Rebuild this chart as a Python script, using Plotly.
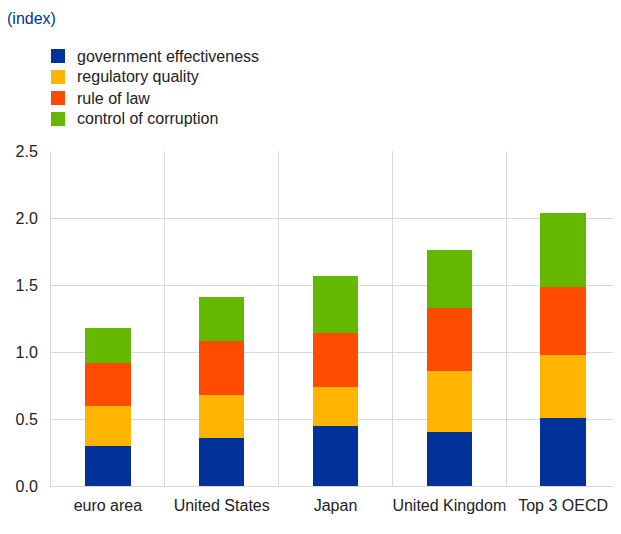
import plotly.graph_objects as go

categories = ["euro area", "United States", "Japan", "United Kingdom", "Top 3 OECD"]
government_effectiveness = [0.30, 0.36, 0.45, 0.40, 0.505]
regulatory_quality = [0.30, 0.32, 0.29, 0.46, 0.47]
rule_of_law = [0.32, 0.40, 0.40, 0.47, 0.51]
control_of_corruption = [0.26, 0.33, 0.43, 0.43, 0.555]

series_names = ["government effectiveness", "regulatory quality", "rule of law", "control of corruption"]
series_values = [government_effectiveness, regulatory_quality, rule_of_law, control_of_corruption]
colors = ["#003299", "#FFB400", "#FF4B00", "#65B800"]

FONT = "Liberation Sans, Arial, sans-serif"

# page body has an 8px margin, so the figure is sized to fill the rest of the window
W, H = 613, 526
L, R, T, B = 43, 1, 143, 48
pw = W - L - R
ph = H - T - B


def px(xpix):
    return (xpix - L) / pw


def py(ypix):
    return 1 - (ypix - T) / ph


fig = go.Figure()
for name, vals, col in zip(series_names, series_values, colors):
    fig.add_trace(go.Bar(x=categories, y=vals, name=name,
                         marker=dict(color=col, line=dict(width=0)), showlegend=False))

shapes = []
annotations = [dict(
    text="(index)", xref="paper", yref="paper",
    x=px(-2), y=py(11),
    xanchor="left", yanchor="middle", showarrow=False, borderpad=0,
    font=dict(size=16, color="#003299", family=FONT),
)]
for i, (name, col) in enumerate(zip(series_names, colors)):
    cy = 48 + 21 * i
    shapes.append(dict(type="rect", xref="paper", yref="paper",
                       x0=px(43), x1=px(57), y0=py(cy - 7), y1=py(cy + 7),
                       fillcolor=col, line=dict(width=0)))
    annotations.append(dict(text=name, xref="paper", yref="paper",
                            x=px(68), y=py(cy), xanchor="left", yanchor="middle",
                            showarrow=False, borderpad=0,
                            font=dict(size=16, color="#222222", family=FONT)))

fig.update_layout(
    width=W, height=H,
    barmode="stack",
    bargap=0.6,
    plot_bgcolor="white",
    paper_bgcolor="white",
    margin=dict(l=L, r=R, t=T, b=B, pad=0, autoexpand=False),
    font=dict(family=FONT, size=16, color="#222222"),
    showlegend=False,
    shapes=shapes,
    annotations=annotations,
)
fig.update_xaxes(
    showgrid=True, gridcolor="#d9d9d9", gridwidth=1,
    tickson="boundaries", ticks="", showline=True, linecolor="#d9d9d9",
    mirror=False, ticklabelstandoff=5, tickangle=0, automargin=False,
)
fig.update_yaxes(
    range=[0, 2.5], dtick=0.5, tickformat=".1f",
    showgrid=True, gridcolor="#d9d9d9", gridwidth=1,
    zeroline=False, showline=True, linecolor="#d9d9d9", mirror=True,
    ticks="", ticklabelstandoff=9, automargin=False,
)

fig.write_html("out.html")
